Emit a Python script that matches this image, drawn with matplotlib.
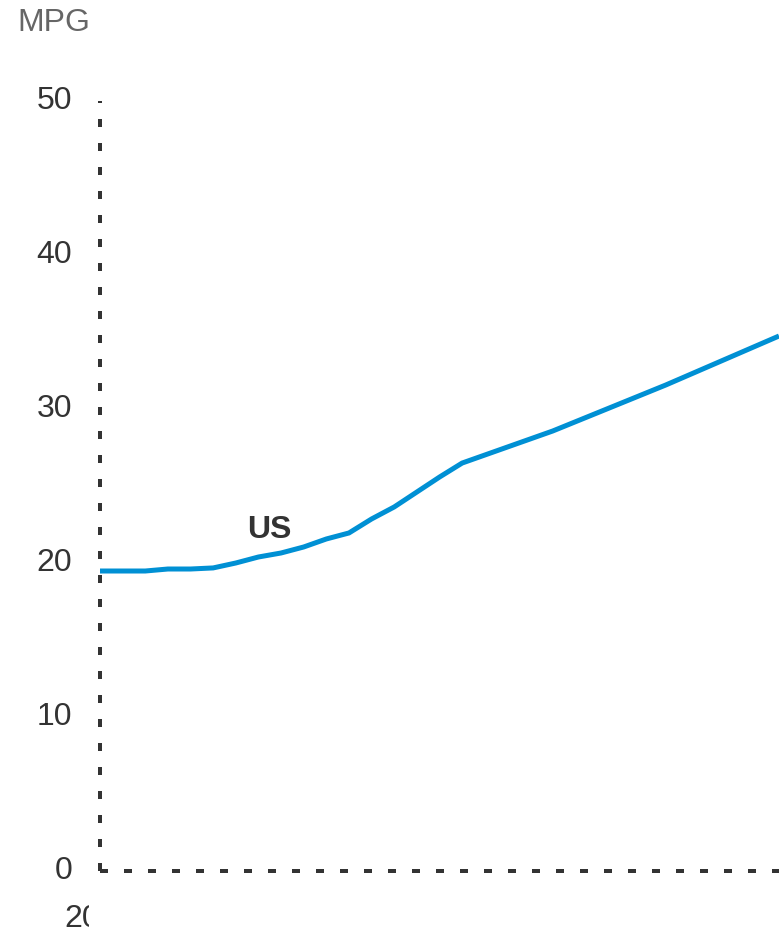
import matplotlib
matplotlib.use("Agg")
import matplotlib.pyplot as plt
from matplotlib.transforms import Bbox

plt.rcParams['font.family'] = ['Liberation Sans', 'DejaVu Sans']

# Fuel economy series (MPG)
years = [2000, 2001, 2002, 2003, 2004, 2005, 2006, 2007, 2008, 2009, 2010,
         2011, 2012, 2013, 2014, 2015, 2016, 2017, 2018, 2019, 2020, 2025, 2030]
mpg = [19.48, 19.48, 19.48, 19.61, 19.61, 19.68, 20.0, 20.39, 20.65, 21.04, 21.56,
       21.95, 22.86, 23.64, 24.61, 25.58, 26.49, 27.01, 27.53, 28.05, 28.57, 31.56, 34.74]
y_ticks = [0, 10, 20, 30, 40, 50]
series_name = "US"
first_year = "2000"

W, H = 779, 932
fig = plt.figure(figsize=(W / 100, H / 100), dpi=100)
ax = fig.add_axes([100 / W, (H - 871) / H, 679 / W, 770 / H])

line_color = '#0090d4'
dark = '#333333'
fs = 23

ax.plot(years, mpg, color=line_color, lw=3.6, solid_capstyle='butt',
        solid_joinstyle='miter')

ax.set_xlim(2000, 2030)
ax.set_ylim(0, 50)
ax.set_yticks(y_ticks)
ax.set_xticks([])
ax.tick_params(axis='y', length=0, pad=20, labelsize=fs, labelcolor=dark)
for t in ax.get_yticklabels():
    t.set_verticalalignment('center')

for side in ['top', 'right']:
    ax.spines[side].set_visible(False)
for side in ['left', 'bottom']:
    ax.spines[side].set_color(dark)
    ax.spines[side].set_linewidth(2.88)
    ax.spines[side].set_linestyle((0, (2, 4)))
    ax.spines[side].set_capstyle('butt')

# series label
ax.text(2006.5, 21.62, series_name, fontsize=fs, fontweight='bold',
        color=dark, ha='left', va='baseline')

# axis title
fig.text(17 / W, 1 - 31 / H, "MPG", fontsize=fs, color='#666666',
         ha='left', va='baseline')

# first year label, cut off on its right side
lbl = ax.annotate(first_year, xy=(2000, 0), xytext=(0, -33),
                  textcoords='offset pixels', ha='center', va='top',
                  fontsize=fs, color=dark, annotation_clip=False)
lbl.set_clip_box(Bbox.from_extents(0, 0, 89, H))
lbl.set_clip_on(True)

fig.savefig("out.png", dpi=100)
